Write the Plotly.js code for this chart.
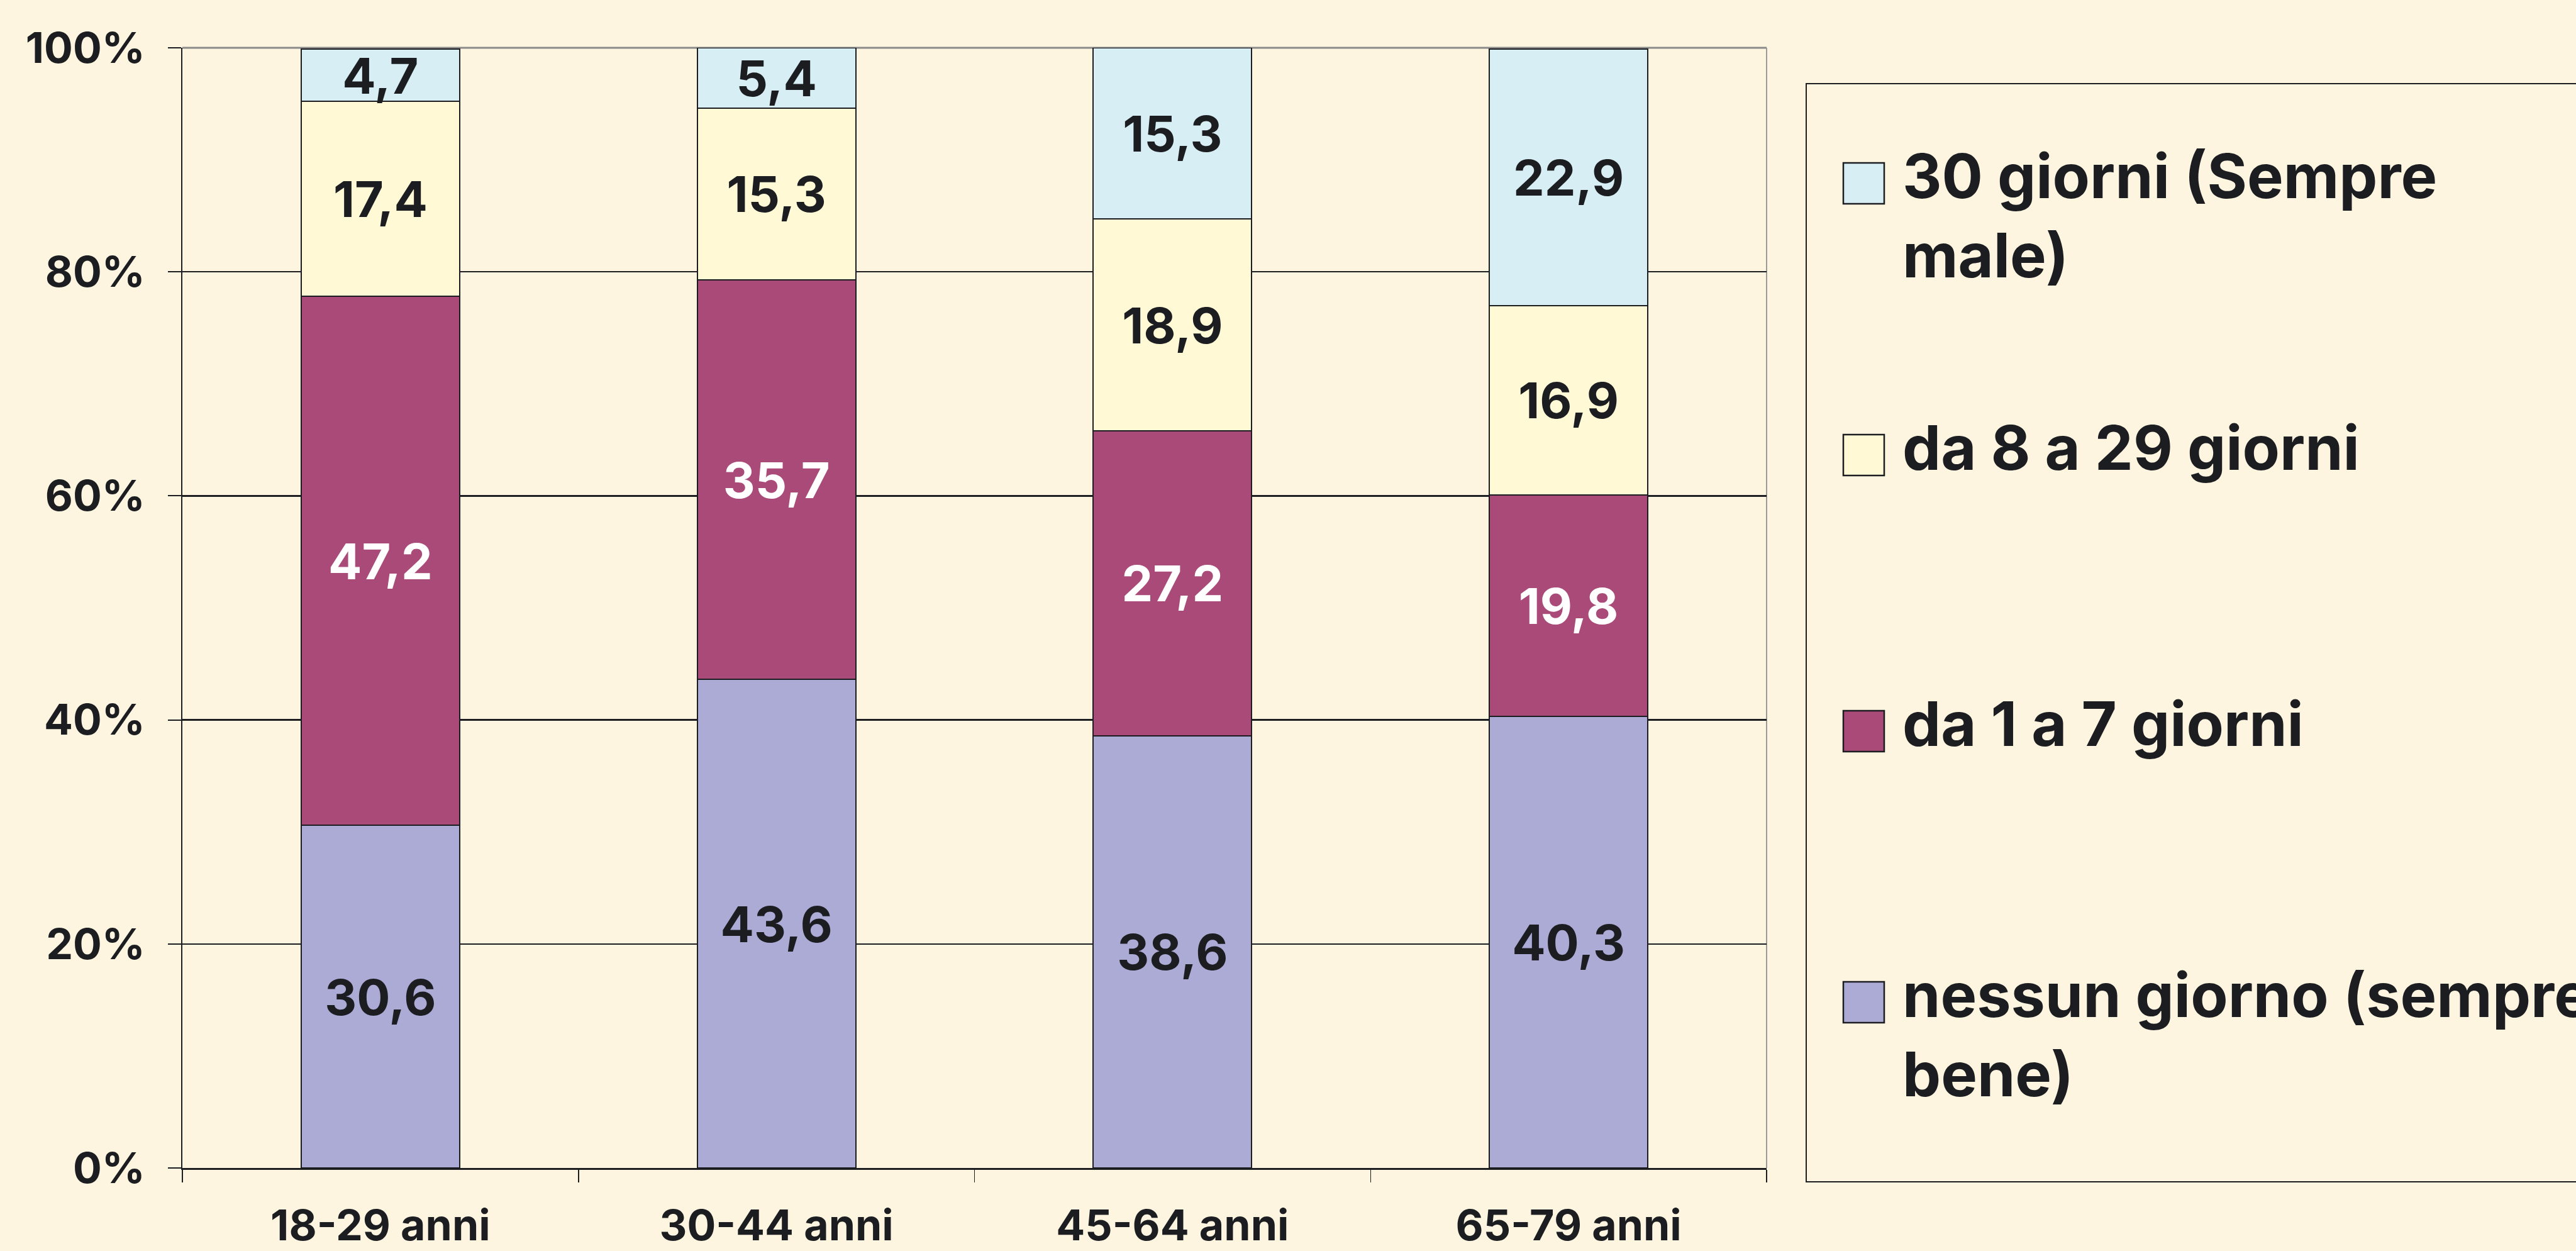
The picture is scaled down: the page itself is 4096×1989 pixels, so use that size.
<!DOCTYPE html>
<html><head><meta charset="utf-8">
<script src="https://cdn.plot.ly/plotly-3.0.1.min.js"></script>
<style>html,body{margin:0;padding:0;background:#FDF5E0;overflow:hidden;} #chart{width:4096px;height:1989px;}</style>
</head><body><div id="chart"></div>
<script>
// ---- data ----
const categories = ['18-29 anni','30-44 anni','45-64 anni','65-79 anni'];
const seriesNames = ['nessun giorno (sempre bene)','da 1 a 7 giorni','da 8 a 29 giorni','30 giorni (Sempre male)'];
const legendLabels = ['nessun giorno (sempre<br>bene)','da 1 a 7 giorni','da 8 a 29 giorni','30 giorni (Sempre<br>male)'];
const nessunGiorno = [30.6, 43.6, 38.6, 40.3];
const da1a7 = [47.2, 35.7, 27.2, 19.8];
const da8a29 = [17.4, 15.3, 18.9, 16.9];
const giorni30 = [4.7, 5.4, 15.3, 22.9];
const yTickVals = [0, 20, 40, 60, 80, 100];
const yTickText = ['0%', '20%', '40%', '60%', '80%', '100%'];

// ---- style ----
const seriesValues = [nessunGiorno, da1a7, da8a29, giorni30];
const colors = ['#ABABD6', '#AA4A78', '#FFF9D6', '#D7EFF4'];
const textColors = ['#1C1D21', '#FFFFFF', '#1C1D21', '#1C1D21'];
const DARK = '#1C1D21';
const BG = '#FDF5E0';
const FONT = 'Inter, "DejaVu Sans", sans-serif';

const W = 4096, H = 1989, L = 290, R = 2809, T = 76, B = 1857;
const px2x = p => (p - L) / (R - L);
const py2y = p => (B - p) / (B - T);

const traces = seriesValues.map((vals, i) => ({
  type: 'bar',
  name: seriesNames[i],
  x: categories,
  y: vals,
  width: 0.4,
  marker: {color: colors[i], line: {color: DARK, width: 2}},
  texttemplate: '%{y:.1f}',
  textposition: 'inside',
  insidetextanchor: 'middle',
  textangle: 0,
  constraintext: 'none',
  textfont: {family: FONT, size: 79, weight: 700, color: textColors[i]},
  hoverinfo: 'skip',
  showlegend: false
}));

// legend drawn manually (large swatches as in the reference)
const legendBaselines = [1620, 1189, 750, 318];
const shapes = [
  {type: 'line', xref: 'paper', yref: 'paper', x0: 0, x1: 1, y0: 1, y1: 1, line: {color: '#8A8A8A', width: 3}, layer: 'between'},
  {type: 'line', xref: 'paper', yref: 'paper', x0: 1, x1: 1, y0: 0, y1: 1, line: {color: '#9A9A9A', width: 2}, layer: 'between'},
  {type: 'rect', xref: 'paper', yref: 'paper', x0: px2x(2872), x1: px2x(4300), y0: py2y(1879), y1: py2y(133), line: {color: DARK, width: 2}, fillcolor: 'rgba(0,0,0,0)'}
];
const annotations = [];
for (let i = 0; i < 4; i++) {
  const bl = legendBaselines[i];
  shapes.push({type: 'rect', xref: 'paper', yref: 'paper',
    x0: px2x(2931), x1: px2x(2996), y0: py2y(bl + 6), y1: py2y(bl - 59),
    fillcolor: colors[i], line: {color: DARK, width: 2.5}});
  annotations.push({xref: 'paper', yref: 'paper', x: px2x(3024), y: py2y(bl - 98),
    xanchor: 'left', yanchor: 'top', align: 'left', showarrow: false, borderpad: 0,
    text: legendLabels[i], font: {family: FONT, size: 97, weight: 700, color: DARK}});
}

const layout = {
  width: W, height: H,
  margin: {l: L, r: W - R, t: T, b: H - B, autoexpand: false},
  paper_bgcolor: BG, plot_bgcolor: BG,
  barmode: 'stack',
  separators: ',.',
  showlegend: false,
  xaxis: {
    type: 'category',
    showline: true, linecolor: DARK, linewidth: 3,
    ticks: 'outside', tickson: 'boundaries', ticklen: 20, tickwidth: 1.5, tickcolor: DARK,
    ticklabelstandoff: 30,
    tickfont: {family: FONT, size: 68, weight: 700, color: DARK},
    showgrid: false, zeroline: false
  },
  yaxis: {
    range: [0, 100],
    tickmode: 'array', tickvals: yTickVals, ticktext: yTickText,
    showline: true, linecolor: DARK, linewidth: 2.5,
    ticks: 'outside', ticklen: 21, tickwidth: 2, tickcolor: DARK,
    ticklabelstandoff: 22,
    tickfont: {family: FONT, size: 68, weight: 700, color: DARK},
    showgrid: true, gridcolor: DARK, gridwidth: 2.2,
    zeroline: false
  },
  shapes: shapes,
  annotations: annotations
};

Plotly.newPlot('chart', traces, layout, {staticPlot: true, displayModeBar: false});
</script>
</body></html>
